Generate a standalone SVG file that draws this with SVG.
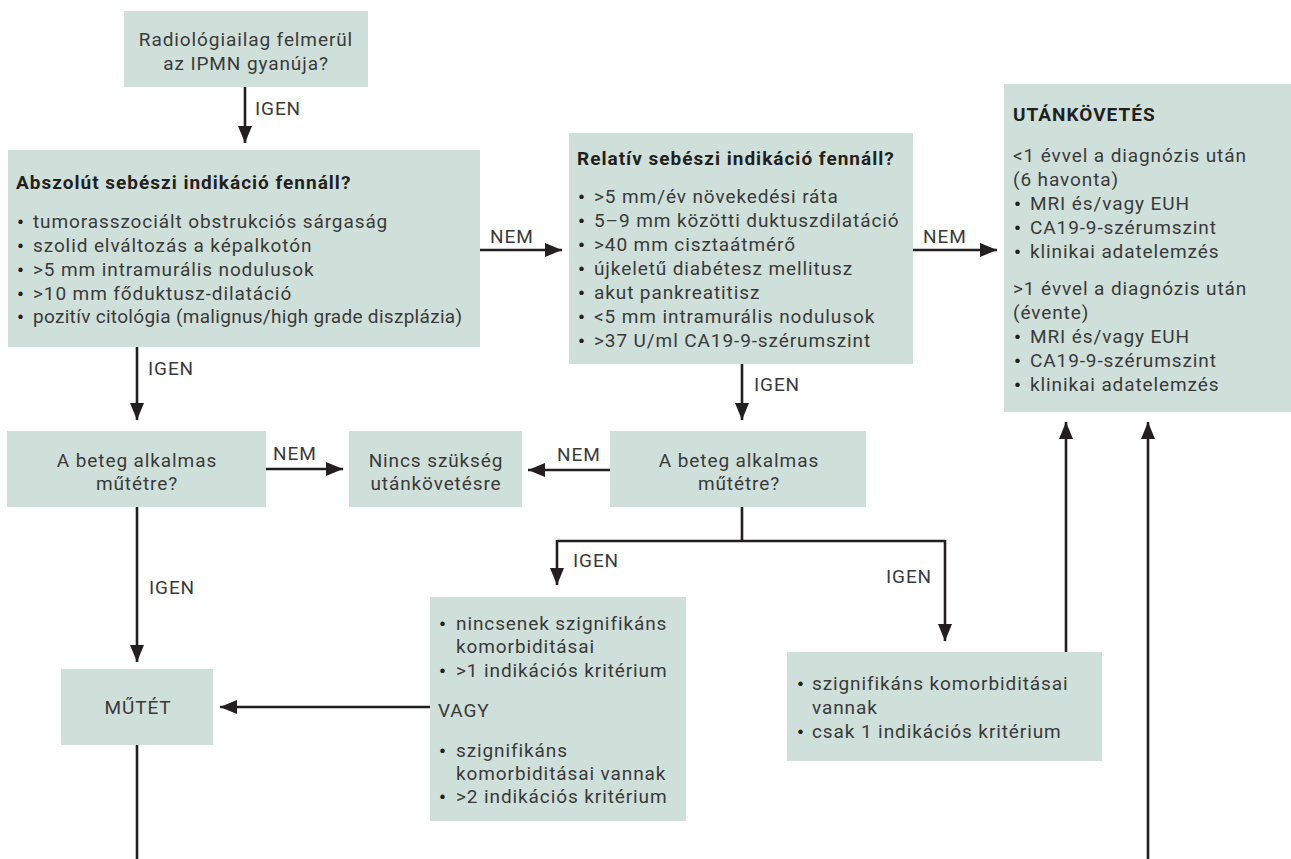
<svg xmlns="http://www.w3.org/2000/svg" width="1291" height="859" viewBox="0 0 1291 859">
<defs>
<style>
.box{fill:#cfdfd9;}
.t{font-family:Roboto,"Liberation Sans",sans-serif;font-size:19px;letter-spacing:0.9px;fill:#3a3a3a;}
.c{text-anchor:middle;}
.b{font-weight:bold;fill:#231f20;letter-spacing:1px;}
.bu{font-size:19px;font-weight:bold;fill:#231f20;letter-spacing:0;}
.lbl{font-family:Roboto,"Liberation Sans",sans-serif;font-size:19px;letter-spacing:0.9px;fill:#3a3a3a;}
.ln{fill:none;stroke:#231f20;stroke-width:2.6;}
.arr{marker-end:url(#ah);}
</style>
<marker id="ah" viewBox="0 0 17 14" refX="17" refY="7" markerWidth="17" markerHeight="14" orient="auto" markerUnits="userSpaceOnUse"><path d="M0,0 L17,7 L0,14 z" fill="#231f20"/></marker>
</defs>
<rect width="1291" height="859" fill="#ffffff"/>
<g id="connectors">
<path class="ln arr" d="M245,87 V143"/>
<path class="ln arr" d="M137,347 V420"/>
<path class="ln arr" d="M480,250 H562"/>
<path class="ln arr" d="M913,250 H997"/>
<path class="ln arr" d="M742,364 V420"/>
<path class="ln arr" d="M266,469 H343"/>
<path class="ln arr" d="M610,470 H528"/>
<path class="ln arr" d="M137,507 V662"/>
<path class="ln" d="M742,507 V541 M557,541 H945"/>
<path class="ln arr" d="M557,540 V585"/>
<path class="ln arr" d="M945,540 V641"/>
<path class="ln arr" d="M430,707 H220"/>
<path class="ln arr" d="M1066,652 V422"/>
<path class="ln" d="M137,745 V859"/>
<path class="ln arr" d="M1148,859 V422"/>
<text class="lbl" x="255" y="115">IGEN</text>
<text class="lbl" x="490" y="243">NEM</text>
<text class="lbl" x="923" y="243">NEM</text>
<text class="lbl" x="754" y="391">IGEN</text>
<text class="lbl" x="148" y="375">IGEN</text>
<text class="lbl" x="273" y="460">NEM</text>
<text class="lbl" x="557" y="461">NEM</text>
<text class="lbl" x="573" y="567">IGEN</text>
<text class="lbl" x="886" y="583">IGEN</text>
<text class="lbl" x="149" y="594">IGEN</text>
</g>
<g id="n-start">
<rect class="box" x="124" y="11" width="244" height="76"/>
<text class="t c" x="246" y="46">Radiológiailag felmerül</text>
<text class="t c" x="246" y="70">az IPMN gyanúja?</text>
</g>
<g id="n-abszolut">
<rect class="box" x="8" y="150" width="472" height="197"/>
<text class="t b" x="16" y="189">Abszolút sebészi indikáció fennáll?</text>
<text class="t"><tspan class="bu" x="17" y="229">•</tspan><tspan x="33" y="228">tumorasszociált obstrukciós sárgaság</tspan></text>
<text class="t"><tspan class="bu" x="17" y="253">•</tspan><tspan x="33" y="252">szolid elváltozás a képalkotón</tspan></text>
<text class="t"><tspan class="bu" x="17" y="277">•</tspan><tspan x="33" y="276">&gt;5 mm intramurális nodulusok</tspan></text>
<text class="t"><tspan class="bu" x="17" y="301">•</tspan><tspan x="33" y="300">&gt;10 mm főduktusz-dilatáció</tspan></text>
<text class="t"><tspan class="bu" x="17" y="324">•</tspan><tspan x="33" y="323" textLength="430" lengthAdjust="spacing">pozitív citológia (malignus/high grade diszplázia)</tspan></text>
</g>
<g id="n-relativ">
<rect class="box" x="569" y="133" width="344" height="231"/>
<text class="t b" x="577" y="165">Relatív sebészi indikáció fennáll?</text>
<text class="t"><tspan class="bu" x="578" y="204">•</tspan><tspan x="594" y="203">&gt;5 mm/év növekedési ráta</tspan></text>
<text class="t"><tspan class="bu" x="578" y="228">•</tspan><tspan x="594" y="227">5–9 mm közötti duktuszdilatáció</tspan></text>
<text class="t"><tspan class="bu" x="578" y="252">•</tspan><tspan x="594" y="251">&gt;40 mm cisztaátmérő</tspan></text>
<text class="t"><tspan class="bu" x="578" y="276">•</tspan><tspan x="594" y="275">újkeletű diabétesz mellitusz</tspan></text>
<text class="t"><tspan class="bu" x="578" y="300">•</tspan><tspan x="594" y="299">akut pankreatitisz</tspan></text>
<text class="t"><tspan class="bu" x="578" y="324">•</tspan><tspan x="594" y="323">&lt;5 mm intramurális nodulusok</tspan></text>
<text class="t"><tspan class="bu" x="578" y="348">•</tspan><tspan x="594" y="347">&gt;37 U/ml CA19-9-szérumszint</tspan></text>
</g>
<g id="n-utankovetes">
<rect class="box" x="1004" y="84" width="287" height="328"/>
<text class="t b" x="1013" y="121">UTÁNKÖVETÉS</text>
<text class="t" x="1013" y="162">&lt;1 évvel a diagnózis után</text>
<text class="t" x="1013" y="186">(6 havonta)</text>
<text class="t"><tspan class="bu" x="1014" y="211">•</tspan><tspan x="1030" y="210">MRI és/vagy EUH</tspan></text>
<text class="t"><tspan class="bu" x="1014" y="235">•</tspan><tspan x="1030" y="234">CA19-9-szérumszint</tspan></text>
<text class="t"><tspan class="bu" x="1014" y="259">•</tspan><tspan x="1030" y="258">klinikai adatelemzés</tspan></text>
<text class="t" x="1013" y="295">&gt;1 évvel a diagnózis után</text>
<text class="t" x="1013" y="319">(évente)</text>
<text class="t"><tspan class="bu" x="1014" y="344">•</tspan><tspan x="1030" y="343">MRI és/vagy EUH</tspan></text>
<text class="t"><tspan class="bu" x="1014" y="368">•</tspan><tspan x="1030" y="367">CA19-9-szérumszint</tspan></text>
<text class="t"><tspan class="bu" x="1014" y="392">•</tspan><tspan x="1030" y="391">klinikai adatelemzés</tspan></text>
</g>
<g id="n-beteg-l">
<rect class="box" x="7" y="431" width="259" height="76"/>
<text class="t c" x="137" y="467">A beteg alkalmas</text>
<text class="t c" x="137" y="490">műtétre?</text>
</g>
<g id="n-nincs">
<rect class="box" x="349" y="431" width="173" height="76"/>
<text class="t c" x="436" y="467">Nincs szükség</text>
<text class="t c" x="436" y="490">utánkövetésre</text>
</g>
<g id="n-beteg-r">
<rect class="box" x="610" y="431" width="256" height="76"/>
<text class="t c" x="739" y="467">A beteg alkalmas</text>
<text class="t c" x="739" y="490">műtétre?</text>
</g>
<g id="n-mutet">
<rect class="box" x="61" y="669" width="152" height="76"/>
<text class="t c" x="138" y="714">MŰTÉT</text>
</g>
<g id="n-mid">
<rect class="box" x="430" y="597" width="256" height="224"/>
<text class="t"><tspan class="bu" x="439" y="631">•</tspan><tspan x="456" y="630">nincsenek szignifikáns</tspan></text>
<text class="t" x="456" y="653">komorbiditásai</text>
<text class="t"><tspan class="bu" x="439" y="678">•</tspan><tspan x="456" y="677">&gt;1 indikációs kritérium</tspan></text>
<text class="t" x="438" y="717">VAGY</text>
<text class="t"><tspan class="bu" x="439" y="758">•</tspan><tspan x="456" y="757">szignifikáns</tspan></text>
<text class="t" x="456" y="780">komorbiditásai vannak</text>
<text class="t"><tspan class="bu" x="439" y="804">•</tspan><tspan x="456" y="803">&gt;2 indikációs kritérium</tspan></text>
</g>
<g id="n-rb">
<rect class="box" x="787" y="652" width="315" height="109"/>
<text class="t"><tspan class="bu" x="797" y="691">•</tspan><tspan x="812" y="690">szignifikáns komorbiditásai</tspan></text>
<text class="t" x="812" y="714">vannak</text>
<text class="t"><tspan class="bu" x="797" y="739">•</tspan><tspan x="812" y="738">csak 1 indikációs kritérium</tspan></text>
</g>
</svg>
